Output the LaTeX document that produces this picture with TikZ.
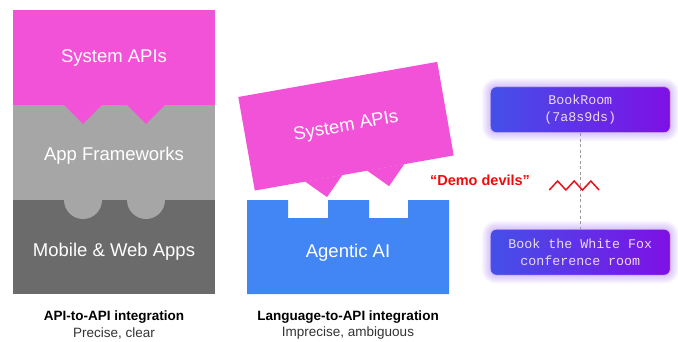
\documentclass[tikz,border=0pt]{standalone}
\usepackage{fontspec}
\setmainfont{Liberation Sans}
\newfontfamily\codefont{Liberation Mono}
\usetikzlibrary{backgrounds}

\definecolor{apipink}{HTML}{F252D8}
\definecolor{fwgray}{HTML}{A6A6A6}
\definecolor{appgray}{HTML}{6B6B6B}
\definecolor{aiblue}{HTML}{4285F4}
\definecolor{gradl}{HTML}{4450E8}
\definecolor{gradr}{HTML}{7E10E5}
\definecolor{glowc}{HTML}{A67CF2}
\definecolor{devred}{HTML}{F20A0A}
\definecolor{zigred}{HTML}{E3121B}
\definecolor{dashgray}{HTML}{9A9A9A}

\tikzset{
  layertext/.style={text=white, font=\fontsize{18.5}{22}\selectfont, inner sep=0},
  headlabel/.style={text=black, font=\bfseries\fontsize{13.5}{16}\selectfont, inner sep=0},
  sublabel/.style={text=black!80, font=\fontsize{13.5}{16}\selectfont, inner sep=0},
  codebox/.style={rounded corners=6pt, left color=gradl, right color=gradr,
    draw=white!70!gradr, line width=0.8pt, minimum width=180pt, minimum height=46pt,
    text=white!85!violet, font=\codefont\fontsize{13.3}{16.5}\selectfont,
    align=center, inner sep=0},
  devil/.style={text=devred, font=\bfseries\fontsize{14.5}{17}\selectfont, inner sep=0},
  linkline/.style={draw=dashgray, line width=1.1pt, dash pattern=on 3pt off 2.5pt},
  zigzagline/.style={draw=zigred, line width=1.5pt, line join=miter},
  apis/.pic={
    \fill[apipink] (-101,-47.5) rectangle (101,47.5);
    \fill[apipink] (-50,47.3) -- (-31,66.5) -- (-12,47.3) -- cycle;
    \fill[apipink] (13,47.3) -- (32,66.5) -- (51,47.3) -- cycle;
    \node[layertext, transform shape] (-label) at (0,0.5) {System APIs};
  }
}

\begin{document}
\begin{tikzpicture}[x=1pt,y=-1pt]
\useasboundingbox (0,0) rectangle (678,341);

% API-to-API stack
\fill[fwgray] (13,105) rectangle (215,200);
\fill[appgray] (13,200) rectangle (215,294);
\fill[fwgray] (83,200) circle[radius=19pt];
\fill[fwgray] (146,200) circle[radius=19pt];
\pic (sysleft) at (114,57.5) {apis};
\node[layertext] (frameworks) at (114,156) {App Frameworks};
\node[layertext] (apps) at (114,252) {Mobile \& Web Apps};
\node[headlabel] (lefthead) at (114,317) {API-to-API integration};
\node[sublabel] (leftsub) at (114,333.5) {Precise, clear};

% Language-to-API stack
\fill[aiblue] (247,200) -- (288,200) -- (288,218) -- (328,218) -- (328,200)
  -- (369,200) -- (369,218) -- (408,218) -- (408,200) -- (449,200)
  -- (449,294) -- (247,294) -- cycle;
\node[layertext] (agentic) at (348,253) {Agentic AI};
\pic[rotate=10] (sysright) at (346,126.2) {apis};
\node[headlabel] (midhead) at (348,317) {Language-to-API integration};
\node[sublabel] (midsub) at (348,333.5) {Imprecise, ambiguous};

% Tool call vs. spoken request
\node[codebox] (room) at (580.3,109.7) {BookRoom\\(7a8s9ds)};
\node[codebox] (fox) at (580.3,252.2) {Book the White Fox\\conference room};
\begin{scope}[on background layer]
  \foreach \n in {room,fox}{
    \foreach \i in {1,...,8}{
      \pgfmathsetmacro{\rr}{6+\i}
      \fill[glowc, opacity=0.06, rounded corners=\rr pt]
        ([xshift=-\i pt, yshift=\i pt]\n.north west) rectangle
        ([xshift=\i pt, yshift=-\i pt]\n.south east);
    }
  }
\end{scope}
\draw[linkline] (room.south) -- (fox.north);
\draw[zigzagline] (549.3,190) -- (557.6,181) -- (565.9,190) -- (574.2,181)
  -- (582.5,190) -- (590.8,181) -- (599.1,190);
\node[devil] (demo) at (480,180.5) {“Demo devils”};
\end{tikzpicture}
\end{document}
